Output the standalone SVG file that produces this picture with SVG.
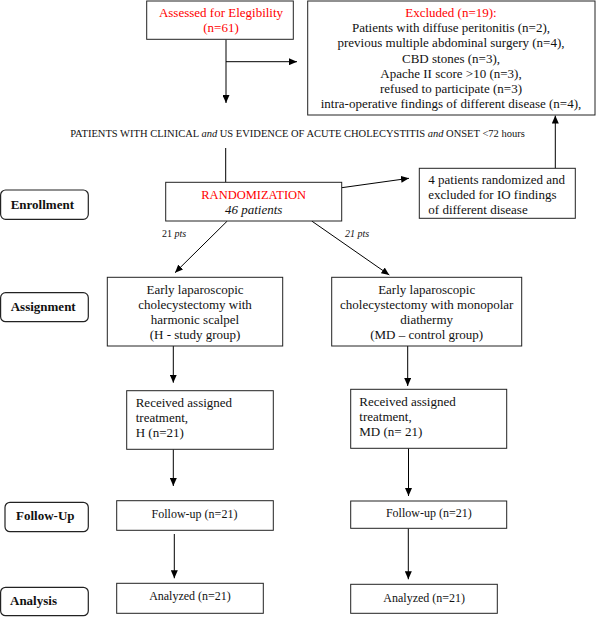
<svg xmlns="http://www.w3.org/2000/svg" width="600" height="617" viewBox="0 0 600 617">
<defs>
<marker id="ah" markerUnits="userSpaceOnUse" markerWidth="8" markerHeight="7" refX="8" refY="3.5" orient="auto">
<path d="M0,0 L8,3.5 L0,7 z" fill="#000"/>
</marker>
<style>
.box{fill:#fff;stroke:#222;stroke-width:1}
.lbl{fill:#fff;stroke:#222;stroke-width:1.2}
.t{font-family:"Liberation Serif","Times New Roman",serif;font-size:13px;fill:#111}
.s{font-size:12px}
.c{text-anchor:middle}
.red{fill:#f00}
.b{font-weight:bold}
.i{font-style:italic}
.ln{stroke:#000;stroke-width:1;fill:none}
.ar{stroke:#000;stroke-width:1;fill:none;marker-end:url(#ah)}
</style>
</defs>
<rect width="600" height="617" fill="#fff"/>

<g id="connectors">
<line class="ar" x1="226" y1="39.5" x2="226" y2="103"/>
<line class="ar" x1="226" y1="61.7" x2="297" y2="61.7"/>
<line class="ln" x1="225.7" y1="148" x2="225.7" y2="182.3"/>
<line class="ar" x1="341.7" y1="187.7" x2="409" y2="178.3"/>
<line class="ar" x1="555.3" y1="168.3" x2="555.3" y2="115.5"/>
<line class="ar" x1="227.3" y1="221" x2="175" y2="272.7"/>
<line class="ar" x1="311.7" y1="221" x2="389.3" y2="275"/>
<line class="ar" x1="173.3" y1="346" x2="173.3" y2="382.7"/>
<line class="ar" x1="407.7" y1="346" x2="407.7" y2="386"/>
<line class="ar" x1="173.3" y1="449.3" x2="173.3" y2="486"/>
<line class="ar" x1="408.5" y1="448.3" x2="408.5" y2="496"/>
<line class="ar" x1="174.3" y1="534" x2="174.3" y2="578.3"/>
<line class="ar" x1="408.3" y1="528.3" x2="408.3" y2="579.3"/>
</g>

<g id="assessed">
<rect class="box" x="146.7" y="1" width="146.6" height="38.3"/>
<text class="t c red" x="221" y="16.7">Assessed for Elegibility</text>
<text class="t c red" x="221" y="32">(n=61)</text>
</g>

<g id="excluded">
<rect class="box" x="307.7" y="1" width="287.3" height="114"/>
<text class="t c red" x="451" y="17">Excluded (n=19):</text>
<text class="t c" x="451" y="32">Patients with diffuse peritonitis (n=2),</text>
<text class="t c" x="451" y="47">previous multiple abdominal surgery (n=4),</text>
<text class="t c" x="451" y="62.5">CBD stones (n=3),</text>
<text class="t c" x="451" y="78">Apache II score &gt;10 (n=3),</text>
<text class="t c" x="451" y="93">refused to participate (n=3)</text>
<text class="t c" x="451" y="108">intra-operative findings of different disease (n=4),</text>
</g>

<g id="criteria">
<text class="t c" style="font-size:10.5px" x="297.5" y="136.5">PATIENTS WITH CLINICAL <tspan class="i">and</tspan> US EVIDENCE OF ACUTE CHOLECYSTITIS <tspan class="i">and</tspan> ONSET &lt;72 hours</text>
</g>

<g id="enrollment">
<rect class="lbl" x="0.6" y="190" width="87.7" height="29.3" rx="5"/>
<text class="t b" x="10.7" y="208.5">Enrollment</text>
</g>

<g id="randomization">
<rect class="box" x="165.7" y="182.3" width="176" height="38.7"/>
<text class="t c red" style="font-size:12.5px" x="253.7" y="199">RANDOMIZATION</text>
<text class="t c i" x="253.7" y="214">46 patients</text>
</g>

<g id="excluded-io">
<rect class="box" x="419.3" y="168.3" width="156" height="50"/>
<text class="t" x="428.3" y="184">4 patients randomized and</text>
<text class="t" x="428.3" y="199.3">excluded for IO findings</text>
<text class="t" x="428.3" y="214.3">of different disease</text>
</g>

<g id="pts-labels">
<text class="t" style="font-size:10px" x="162" y="236.7">21 <tspan class="i">pts</tspan></text>
<text class="t i" style="font-size:10px" x="345" y="236.7">21 pts</text>
</g>

<g id="assignment">
<rect class="lbl" x="0.6" y="292.7" width="87.7" height="29" rx="5"/>
<text class="t b" x="10.7" y="310.5">Assignment</text>
</g>

<g id="assign-h">
<rect class="box" x="107.3" y="277.3" width="175.4" height="68.7"/>
<text class="t c" x="195" y="293.8">Early laparoscopic</text>
<text class="t c" x="195" y="308.5">cholecystectomy with</text>
<text class="t c" x="195" y="323.5">harmonic scalpel</text>
<text class="t c" x="195" y="338.5">(H - study group)</text>
</g>

<g id="assign-md">
<rect class="box" x="331.7" y="277.3" width="190" height="68.7"/>
<text class="t c" x="426.7" y="293.8">Early laparoscopic</text>
<text class="t c" x="426.7" y="308.5">cholecystectomy with monopolar</text>
<text class="t c" x="426.7" y="323.5">diathermy</text>
<text class="t c" x="426.7" y="338.5">(MD – control group)</text>
</g>

<g id="received-h">
<rect class="box" x="126.7" y="390.7" width="146.6" height="58.6"/>
<text class="t" x="135.7" y="407.3">Received assigned</text>
<text class="t" x="135.7" y="422.3">treatment,</text>
<text class="t" x="135.7" y="437.3">H (n=21)</text>
</g>

<g id="received-md">
<rect class="box" x="350.7" y="389.3" width="156" height="59"/>
<text class="t" x="359.3" y="406">Received assigned</text>
<text class="t" x="359.3" y="421">treatment,</text>
<text class="t" x="359.3" y="436">MD (n= 21)</text>
</g>

<g id="followup">
<rect class="lbl" x="5" y="502.3" width="83.3" height="29.4" rx="5"/>
<text class="t b" x="16" y="520">Follow-Up</text>
</g>

<g id="followup-h">
<rect class="box" x="116.7" y="500.7" width="156.6" height="29.6"/>
<text class="t c s" x="194.5" y="518.3">Follow-up (n=21)</text>
</g>

<g id="followup-md">
<rect class="box" x="350.7" y="501" width="156" height="27.3"/>
<text class="t c s" x="428.8" y="516.7">Follow-up (n=21)</text>
</g>

<g id="analysis">
<rect class="lbl" x="0.6" y="587.3" width="87.7" height="28.4" rx="5"/>
<text class="t b" x="10" y="605">Analysis</text>
</g>

<g id="analyzed-h">
<rect class="box" x="116.7" y="583.3" width="146.6" height="30"/>
<text class="t c s" x="190" y="600">Analyzed (n=21)</text>
</g>

<g id="analyzed-md">
<rect class="box" x="350.7" y="584.3" width="146.6" height="29"/>
<text class="t c s" x="424.2" y="601.7">Analyzed (n=21)</text>
</g>
</svg>
